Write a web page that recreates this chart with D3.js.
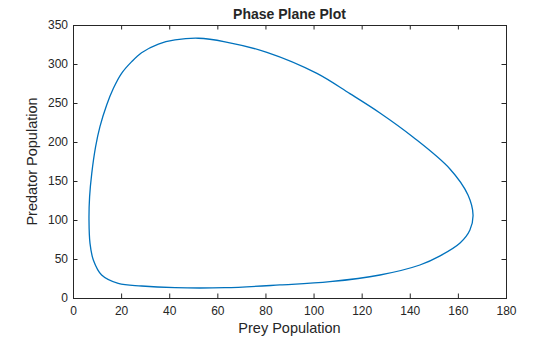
<!DOCTYPE html>
<html>
<head>
<meta charset="utf-8">
<script src="https://cdn.jsdelivr.net/npm/d3@7"></script>
<style>
  body { margin: 0; background: #fff; }
  svg { display: block; }
  text { font-family: "Liberation Sans", Arial, sans-serif; fill: #262626; }
</style>
</head>
<body>
<svg id="chart" width="560" height="337"></svg>
<script>
// Data (closed limit cycle, counter-clockwise)
const prey = [6.65, 7.07, 8.45, 11.9, 18.8, 28.5, 42.4, 63.2, 86.0, 106.8, 127.6, 144.2, 152.6, 160.9, 165.0, 166.3, 164.2, 156.7, 141.3, 127.6, 115.1, 101.4, 80.6, 63.2, 52.1, 42.4, 35.5, 28.5, 24.4, 20.2, 16.8, 14.0, 11.2, 9.4, 7.8, 6.9];
const predator = [100, 70, 48.7, 29.5, 18.8, 15.4, 13.2, 13.2, 16.7, 20.9, 29.5, 42.3, 54, 70.5, 87.2, 106.4, 132, 165.4, 206.4, 237.2, 262, 288, 315, 328.5, 333, 330.8, 325.6, 314.5, 303, 288, 268.8, 247.4, 219.7, 194, 159.8, 129.9];
const xTicks = [0, 20, 40, 60, 80, 100, 120, 140, 160, 180];
const yTicks = [0, 50, 100, 150, 200, 250, 300, 350];

const titleText = "Phase Plane Plot";
const xLabel = "Prey Population";
const yLabel = "Predator Population";

const svg = d3.select("#chart");
const L = 73, R = 506, T = 25, B = 298;
const x = d3.scaleLinear().domain([0, 180]).range([L, R]);
const y = d3.scaleLinear().domain([0, 350]).range([B, T]);
const axisColor = "#262626";
const tickLen = 4.5;

const pts = prey.map((p, i) => [p, predator[i]]);
const line = d3.line().x(d => x(d[0])).y(d => y(d[1])).curve(d3.curveCatmullRomClosed.alpha(0.5));

svg.append("path")
  .attr("d", line(pts))
  .attr("fill", "none")
  .attr("stroke", "#0072BD")
  .attr("stroke-width", 1.3);

// axes
function styleAxis(g) {
  g.select(".domain").remove();
  g.selectAll(".tick line").attr("stroke", axisColor).attr("stroke-width", 1);
  g.selectAll(".tick text").style("font-size", "12px").style("fill", axisColor)
    .style("font-family", '"Liberation Sans", Arial, sans-serif');
}
svg.append("g").attr("transform", `translate(0,${B})`)
  .call(d3.axisBottom(x).tickValues(xTicks).tickSize(-tickLen).tickPadding(8))
  .call(styleAxis);
svg.append("g").attr("transform", `translate(0,${T})`)
  .call(d3.axisTop(x).tickValues(xTicks).tickSize(-tickLen).tickFormat(""))
  .call(styleAxis);
svg.append("g").attr("transform", `translate(${L},0)`)
  .call(d3.axisLeft(y).tickValues(yTicks).tickSize(-tickLen).tickPadding(5))
  .call(styleAxis);
svg.append("g").attr("transform", `translate(${R},0)`)
  .call(d3.axisRight(y).tickValues(yTicks).tickSize(-tickLen).tickFormat(""))
  .call(styleAxis);

svg.append("rect")
  .attr("x", L + 0.5).attr("y", T + 0.5)
  .attr("width", R - L).attr("height", B - T)
  .attr("fill", "none").attr("stroke", axisColor).attr("stroke-width", 1);

svg.append("text").attr("x", (L + R) / 2).attr("y", 19)
  .attr("text-anchor", "middle").style("font-size", "14px").style("font-weight", "bold")
  .text(titleText);
svg.append("text").attr("x", (L + R) / 2).attr("y", 333)
  .attr("text-anchor", "middle").style("font-size", "14.5px")
  .text(xLabel);
svg.append("text").attr("transform", `translate(37,${(T + B) / 2}) rotate(-90)`)
  .attr("text-anchor", "middle").style("font-size", "14.5px")
  .text(yLabel);
</script>
</body>
</html>
